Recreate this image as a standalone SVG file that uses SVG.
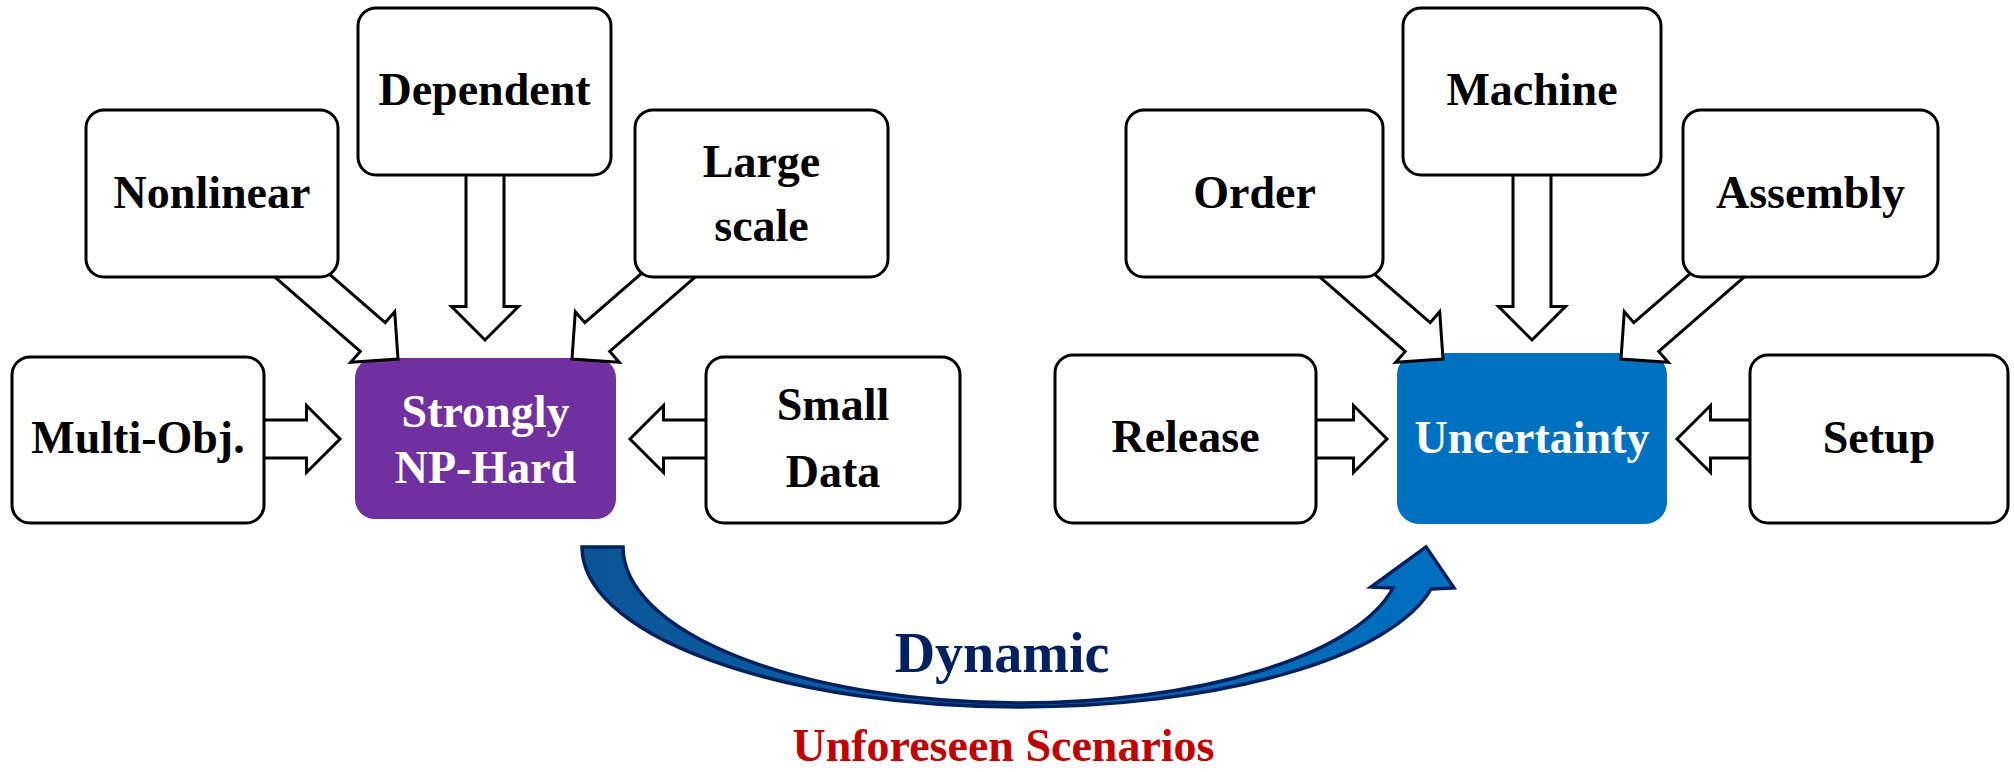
<svg xmlns="http://www.w3.org/2000/svg" width="2014" height="772" viewBox="0 0 2014 772">
<defs>
<linearGradient id="curveGrad" x1="580" y1="0" x2="1456" y2="0" gradientUnits="userSpaceOnUse">
<stop offset="0" stop-color="#0B5596"/>
<stop offset="1" stop-color="#0070C0"/>
</linearGradient>
<style>
.box{fill:#fff;stroke:#000;stroke-width:3}
.lbl{font-family:"Liberation Serif","Times New Roman",serif;font-weight:bold;font-size:46px;text-anchor:middle;fill:#000}
.wlbl{font-family:"Liberation Serif","Times New Roman",serif;font-weight:bold;font-size:46px;text-anchor:middle;fill:#fff}
.arr{fill:#fff;stroke:#000;stroke-width:3;stroke-linejoin:miter}
</style>
</defs>
<rect width="2014" height="772" fill="#fff"/>

<g id="np-hard">
<rect x="355" y="358" width="261" height="161" rx="20" fill="#7030A0"/>
<text class="wlbl" x="485.5" y="427">Strongly</text>
<text class="wlbl" x="485.5" y="483">NP-Hard</text>
</g>
<g id="uncertainty">
<rect x="1397" y="353" width="270" height="171" rx="22" fill="#0070C0"/>
<text class="wlbl" x="1532" y="453">Uncertainty</text>
</g>

<g id="connectors">
<polygon class="arr" transform="translate(485,340) rotate(90)" points="-180,-19 -33.5,-19 -33.5,-33.5 0,0 -33.5,33.5 -33.5,19 -180,19"/>
<polygon class="arr" transform="translate(398,359) rotate(41)" points="-150,-19 -33.5,-19 -33.5,-33.5 0,0 -33.5,33.5 -33.5,19 -150,19"/>
<polygon class="arr" transform="translate(572,359) rotate(139)" points="-150,-19 -33.5,-19 -33.5,-33.5 0,0 -33.5,33.5 -33.5,19 -150,19"/>
<polygon class="arr" transform="translate(340,439)" points="-90,-19 -33.5,-19 -33.5,-33.5 0,0 -33.5,33.5 -33.5,19 -90,19"/>
<polygon class="arr" transform="translate(630,439) rotate(180)" points="-90,-19 -33.5,-19 -33.5,-33.5 0,0 -33.5,33.5 -33.5,19 -90,19"/>
<polygon class="arr" transform="translate(1532,340) rotate(90)" points="-180,-19 -33.5,-19 -33.5,-33.5 0,0 -33.5,33.5 -33.5,19 -180,19"/>
<polygon class="arr" transform="translate(1443,359) rotate(41)" points="-150,-19 -33.5,-19 -33.5,-33.5 0,0 -33.5,33.5 -33.5,19 -150,19"/>
<polygon class="arr" transform="translate(1621,359) rotate(139)" points="-150,-19 -33.5,-19 -33.5,-33.5 0,0 -33.5,33.5 -33.5,19 -150,19"/>
<polygon class="arr" transform="translate(1387,439)" points="-90,-19 -33.5,-19 -33.5,-33.5 0,0 -33.5,33.5 -33.5,19 -90,19"/>
<polygon class="arr" transform="translate(1677,439) rotate(180)" points="-90,-19 -33.5,-19 -33.5,-33.5 0,0 -33.5,33.5 -33.5,19 -90,19"/>
<path id="dynamic-arrow" d="M582,547 A438,160 0 0 0 1020,707 A420,147 0 0 0 1431,589 L1454,588 L1426,547 L1371,587 L1393,588 A381,143 0 0 1 1020,703 A397,156 0 0 1 623,547 Z" fill="url(#curveGrad)" stroke="#002060" stroke-width="3.5" stroke-linejoin="miter"/>
</g>

<g id="dependent">
<rect class="box" x="358" y="8" width="253" height="167" rx="18"/>
<text class="lbl" x="484.5" y="105">Dependent</text>
</g>
<g id="nonlinear">
<rect class="box" x="86" y="110" width="252" height="167" rx="18"/>
<text class="lbl" x="212" y="208">Nonlinear</text>
</g>
<g id="large-scale">
<rect class="box" x="635" y="110" width="253" height="167" rx="18"/>
<text class="lbl" x="761.5" y="177">Large</text>
<text class="lbl" x="761.5" y="241">scale</text>
</g>
<g id="multi-obj">
<rect class="box" x="12" y="357" width="252" height="166" rx="18"/>
<text class="lbl" x="138" y="453">Multi-Obj.</text>
</g>
<g id="small-data">
<rect class="box" x="706" y="357" width="254" height="166" rx="18"/>
<text class="lbl" x="833" y="420">Small</text>
<text class="lbl" x="833" y="487">Data</text>
</g>

<g id="machine">
<rect class="box" x="1403" y="8" width="258" height="167" rx="18"/>
<text class="lbl" x="1532" y="105">Machine</text>
</g>
<g id="order">
<rect class="box" x="1126" y="110" width="257" height="167" rx="18"/>
<text class="lbl" x="1254.5" y="208">Order</text>
</g>
<g id="assembly">
<rect class="box" x="1683" y="110" width="255" height="167" rx="18"/>
<text class="lbl" x="1810.5" y="208">Assembly</text>
</g>
<g id="release">
<rect class="box" x="1055" y="355" width="261" height="168" rx="18"/>
<text class="lbl" x="1185.5" y="452">Release</text>
</g>
<g id="setup">
<rect class="box" x="1750" y="355" width="258" height="168" rx="18"/>
<text class="lbl" x="1879" y="453">Setup</text>
</g>

<g id="labels">
<text x="1002" y="672" font-family="'Liberation Serif','Times New Roman',serif" font-weight="bold" font-size="56" text-anchor="middle" fill="#002060">Dynamic</text>
<text x="1003.5" y="761" font-family="'Liberation Serif','Times New Roman',serif" font-weight="bold" font-size="46" text-anchor="middle" fill="#C00000">Unforeseen Scenarios</text>
</g>
</svg>
